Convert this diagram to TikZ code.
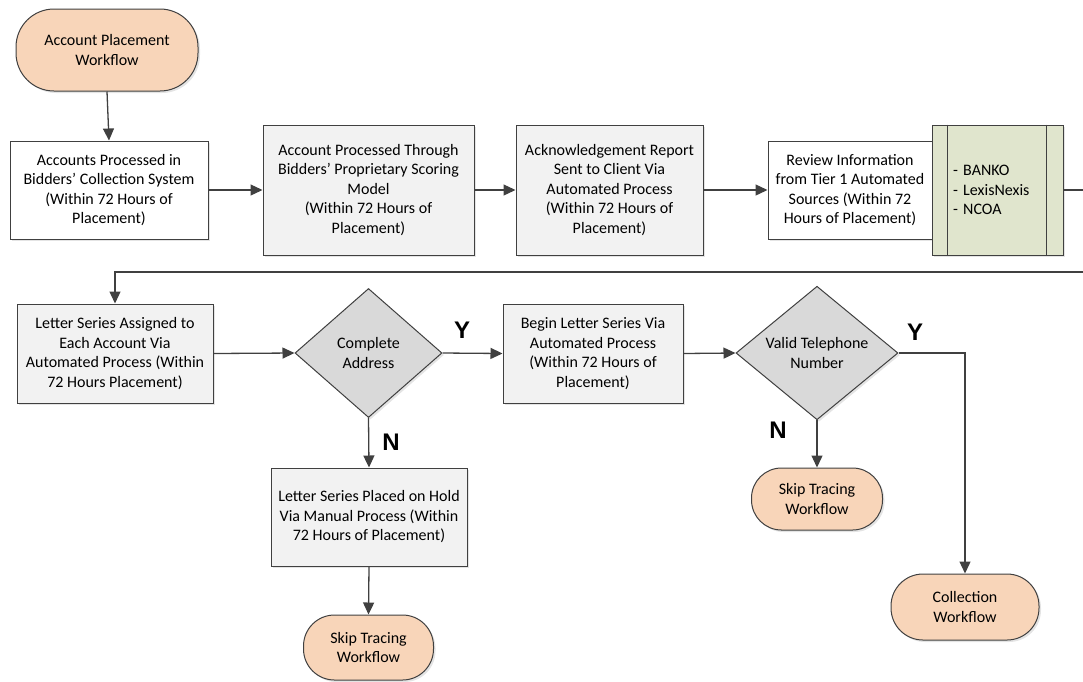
\documentclass[tikz,border=0pt]{standalone}
\usepackage{fontspec}
\setmainfont{Carlito}
\newfontfamily\ynfont{Liberation Sans}
\usetikzlibrary{arrows.meta,shapes.geometric,shadows}
\definecolor{lineC}{HTML}{404040}
\definecolor{peach}{HTML}{F8D5B9}
\definecolor{boxgray}{HTML}{F2F2F2}
\definecolor{diagray}{HTML}{D9D9D9}
\definecolor{olive}{HTML}{E0E5CD}
\tikzset{
  base/.style={draw=lineC, line width=1pt, font=\fontsize{16}{19.5}\selectfont, align=center, inner sep=2pt,
    drop shadow={shadow xshift=2pt, shadow yshift=-2pt, fill=black!30, opacity=0.35}},
  procwhite/.style={base, rectangle, fill=white},
  procgray/.style={base, rectangle, fill=boxgray},
  term/.style={base, rectangle, fill=peach},
  decision/.style={base, diamond, fill=diagray, inner sep=0pt},
  arr/.style={draw=lineC, line width=1.3pt, -{Triangle[length=12pt,width=11pt]}},
  conn/.style={draw=lineC, line width=1.2pt},
  ynlabel/.style={font=\ynfont\bfseries\fontsize{24}{26}\selectfont, inner sep=0pt}
}
\begin{document}
\begin{tikzpicture}[x=1pt,y=-1pt]
\useasboundingbox (0,0) rectangle (1083,681);
% row 1
\node[term, minimum width=182pt, minimum height=82pt, rounded corners=38pt] (start) at (107,50) {Account Placement\\Workflow};
\node[procwhite, minimum width=198pt, minimum height=98pt] (b1) at (109,190) {Accounts Processed in\\Bidders’ Collection System\\(Within 72 Hours of\\Placement)};
\node[procgray, minimum width=211pt, minimum height=130pt] (b2) at (368.5,190) {Account Processed Through\\Bidders’ Proprietary Scoring\\Model\\(Within 72 Hours of\\Placement)};
\node[procgray, minimum width=187pt, minimum height=130pt] (b3) at (609.5,190) {Acknowledgement Report\\Sent to Client Via\\Automated Process\\(Within 72 Hours of\\Placement)};
\node[procwhite, minimum width=164pt, minimum height=98pt] (b4) at (850,190) {Review Information\\from Tier 1 Automated\\Sources (Within 72\\Hours of Placement)};
\node[base, rectangle, fill=olive, minimum width=131pt, minimum height=130pt, text width=89pt, inner xsep=21pt, align=left] (green) at (997.5,190) {- BANKO\\- LexisNexis\\- NCOA};
\draw[conn] ([xshift=16pt]green.north west) -- ([xshift=16pt]green.south west);
\draw[conn] ([xshift=-17pt]green.north east) -- ([xshift=-17pt]green.south east);
% row 2
\node[procgray, minimum width=196pt, minimum height=99pt] (b5) at (115,353.5) {Letter Series Assigned to\\Each Account Via\\Automated Process (Within\\72 Hours Placement)};
\node[decision, minimum width=147pt, minimum height=129pt] (d1) at (368.5,353) {Complete\\Address};
\node[procgray, minimum width=180pt, minimum height=99pt] (b6) at (593,353.5) {Begin Letter Series Via\\Automated Process\\(Within 72 Hours of\\Placement)};
\node[decision, minimum width=162pt, minimum height=130pt] (d2) at (817,353) {Valid Telephone\\Number};
% lower
\node[procgray, minimum width=196pt, minimum height=98pt] (b7) at (369,517) {Letter Series Placed on Hold\\Via Manual Process (Within\\72 Hours of Placement)};
\node[term, minimum width=130pt, minimum height=65pt, rounded corners=31pt] (skip1) at (368.5,647.5) {Skip Tracing\\Workflow};
\node[term, minimum width=131pt, minimum height=62pt, rounded corners=30pt] (skip2) at (817,499) {Skip Tracing\\Workflow};
\node[term, minimum width=148pt, minimum height=66pt, rounded corners=32pt] (coll) at (965,607) {Collection\\Workflow};
% labels
\node[ynlabel] (y1) at (462,330) {Y};
\node[ynlabel] (n1) at (391,442) {N};
\node[ynlabel] (y2) at (915,332) {Y};
\node[ynlabel] (n2) at (778,430) {N};
% connectors
\coordinate (turn) at (1090,272);
\draw[arr] (start.south) -- (b1.north);
\draw[arr] (b1.east) -- (b2.west);
\draw[arr] (b2.east) -- (b3.west);
\draw[arr] (b3.east) -- (b4.west);
\draw[arr] (green.east) -| (turn) -| (b5.north);
\draw[arr] (b5.east) -- (d1.west);
\draw[arr] (d1.east) -- (b6.west);
\draw[arr] (b6.east) -- (d2.west);
\draw[arr] (d2.east) -| (coll.north);
\draw[arr] (d2.south) -- (skip2.north);
\draw[arr] (d1.south) -- (b7.north);
\draw[arr] (b7.south) -- (skip1.north);
\end{tikzpicture}
\end{document}
